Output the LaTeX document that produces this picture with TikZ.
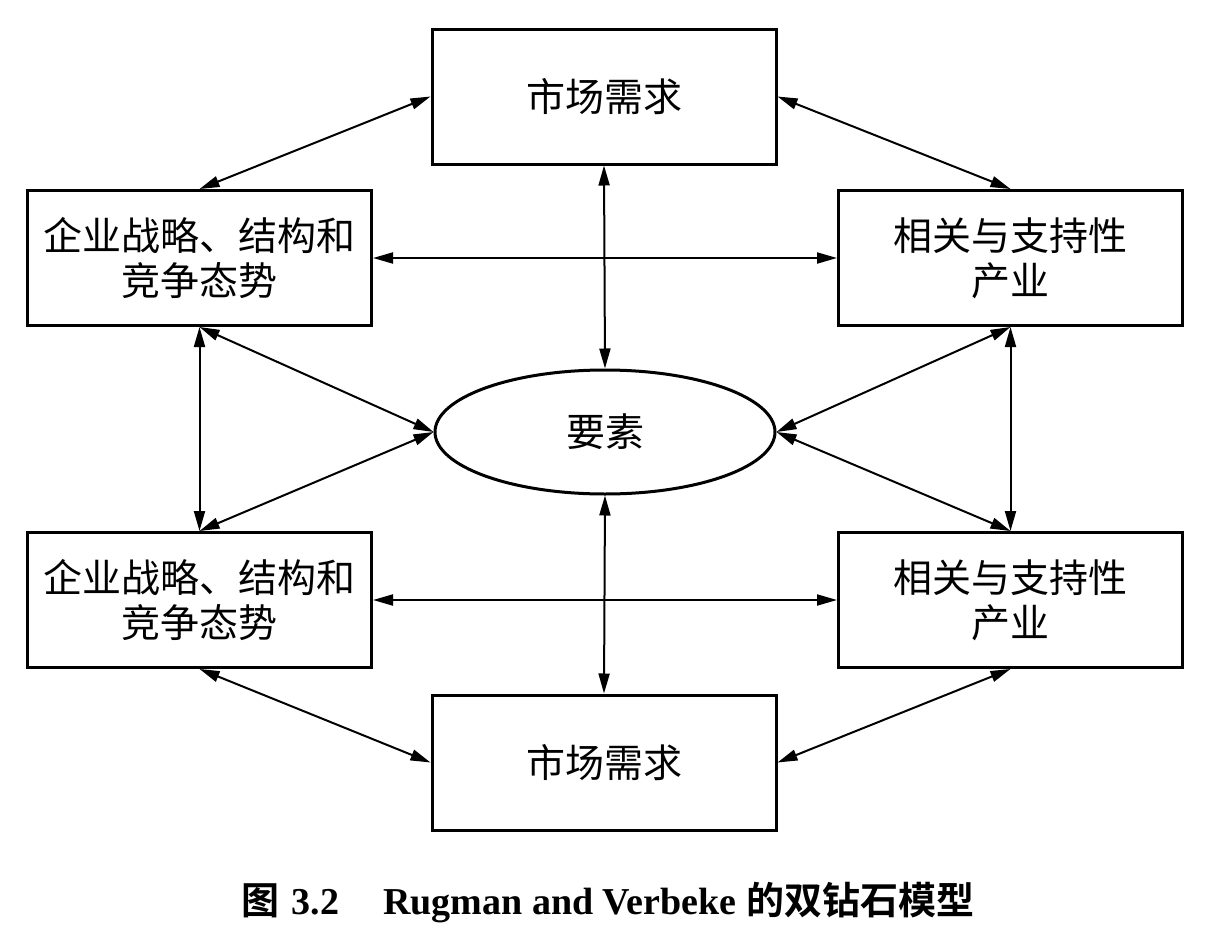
\documentclass[tikz,border=0pt]{standalone}
\usepackage{fontspec}
\setmainfont{Liberation Serif}
\newfontfamily\cjk{Noto Sans CJK SC}
\newfontfamily\cjkb{Noto Sans CJK SC}[BoldFont={Noto Sans CJK SC Bold}]
\usetikzlibrary{shapes.geometric, arrows.meta}

\begin{document}
\begin{tikzpicture}[
    x=0.5pt, y=-0.5pt,
    box/.style   = {rectangle, draw, line width=1.5pt,
                    minimum width=172pt, minimum height=67.5pt,
                    inner sep=0pt, align=center,
                    font=\cjk\fontsize{19.5}{22.5}\selectfont},
    oval/.style  = {ellipse, draw, line width=1.5pt,
                    minimum width=170pt, minimum height=62pt,
                    inner sep=0pt, font=\cjk\fontsize{19.5}{22.5}\selectfont},
    arrow/.style = {{Triangle[length=10pt,width=5.5pt]}-{Triangle[length=10pt,width=5.5pt]}, line width=1pt},
    captxt/.style = {font=\fontsize{19}{22}\selectfont\bfseries}
]
\useasboundingbox (0,0) rectangle (1206,937);
\node[box]  (mtop) at (604, 96.5)    {市场需求};
\node[box]  (lu)   at (199.5, 258)   {企业战略、结构和\\竞争态势};
\node[box]  (ru)   at (1010.5, 258)  {相关与支持性\\产业};
\node[oval] (ys)   at (605, 432)     {要素};
\node[box]  (ll)   at (199.5, 600)   {企业战略、结构和\\竞争态势};
\node[box]  (rl)   at (1010.5, 600)  {相关与支持性\\产业};
\node[box]  (mbot) at (604, 762.5)   {市场需求};
\node[captxt] (title) at (608, 903)
    {{\cjkb 图}\hspace{6pt}3.2\hspace{22pt}Rugman and Verbeke {\cjkb 的双钻石模型}};
\draw[arrow] (mtop.west) -- (lu.north);
\draw[arrow] (mtop.east) -- (ru.north);
\draw[arrow] (lu.east)   -- (ru.west);
\draw[arrow] (mtop.south) -- (ys.north);
\draw[arrow] (lu.south)  -- (ys.west);
\draw[arrow] (ru.south)  -- (ys.east);
\draw[arrow] (lu.south)  -- (ll.north);
\draw[arrow] (ru.south)  -- (rl.north);
\draw[arrow] (ll.north)  -- (ys.west);
\draw[arrow] (rl.north)  -- (ys.east);
\draw[arrow] (ll.east)   -- (rl.west);
\draw[arrow] (ys.south)  -- (mbot.north);
\draw[arrow] (ll.south)  -- (mbot.west);
\draw[arrow] (rl.south)  -- (mbot.east);
\end{tikzpicture}
\end{document}
